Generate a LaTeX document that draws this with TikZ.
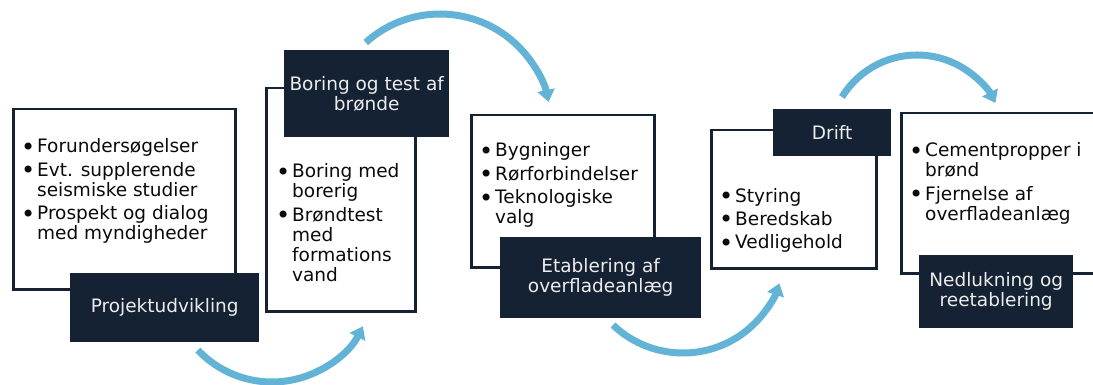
\documentclass[tikz,border=0pt]{standalone}
\usepackage{fontspec}
\setmainfont{DejaVu Sans}
\usetikzlibrary{arrows.meta}
\definecolor{navy}{RGB}{20,34,51}
\definecolor{arrowblue}{RGB}{99,179,215}
\definecolor{labeltext}{RGB}{236,236,236}
\definecolor{bodytext}{RGB}{10,10,10}
\newcommand\bul{\makebox[13pt][l]{\hspace{-3pt}\raisebox{-0.12em}{\scalebox{1.3}{•}}}}
\newcommand\ind{\hspace*{13pt}}
\newcommand\itemfont{\fontsize{18.5}{20}\selectfont}
\newcommand\gap{\\[3.5pt]}
\begin{document}
\begin{tikzpicture}[x=1pt,y=1pt,
  panel/.style={draw=navy, line width=2.5pt, fill=white, anchor=north west, inner sep=0pt},
  label/.style={fill=navy, text=labeltext, align=center, font=\itemfont, anchor=north west, inner sep=0pt},
  body/.style={anchor=base west, inner sep=0pt, text=bodytext, font=\itemfont},
  flow/.style={draw=arrowblue, line width=7pt, -{Triangle[length=12pt,width=17pt]}}]
\useasboundingbox (0,0) rectangle (1093,-385);
\clip (0,0) rectangle (1093,-385);
% panels
\node[panel, minimum width=222pt, minimum height=180pt] (p1) at (12,-108) {};
\node[panel, minimum width=149pt, minimum height=223pt] (p2) at (265,-87) {};
\node[panel, minimum width=183pt, minimum height=152pt] (p3) at (470,-114) {};
\node[panel, minimum width=165pt, minimum height=138pt] (p4) at (710,-129) {};
\node[panel, minimum width=215pt, minimum height=160pt] (p5) at (900,-112) {};
% labels
\node[label, minimum width=189pt, minimum height=69pt] (l1) at (70,-273) {Projektudvikling};
\node[label, minimum width=165pt, minimum height=87pt] (l2) at (284,-50) {Boring og test af\\brønde};
\node[label, minimum width=201pt, minimum height=81pt] (l3) at (500,-237) {Etablering af\\overfladeanlæg};
\node[label, minimum width=118pt, minimum height=47pt] (l4) at (773,-109) {Drift};
\node[label, minimum width=154pt, minimum height=73pt] (l5) at (919,-255) {Nedlukning og\\reetablering};
% body text
\node[body] (b1) at (24,-153) {\parbox[t]{220pt}{\raggedright
  \bul Forundersøgelser\gap
  \bul Evt. supplerende\\\ind seismiske studier\gap
  \bul Prospekt og dialog\\\ind med myndigheder}};
\node[body] (b2) at (279,-178) {\parbox[t]{200pt}{\raggedright
  \bul Boring med\\\ind borerig\gap
  \bul Brøndtest\\\ind med\\\ind formations\\\ind vand}};
\node[body] (b3) at (482,-157) {\parbox[t]{220pt}{\raggedright
  \bul Bygninger\gap
  \bul Rørforbindelser\gap
  \bul Teknologiske\\\ind valg}};
\node[body] (b4) at (722,-202) {\parbox[t]{200pt}{\raggedright
  \bul Styring\gap
  \bul Beredskab\gap
  \bul Vedligehold}};
\node[body] (b5) at (912,-157) {\parbox[t]{220pt}{\raggedright
  \bul Cementpropper i\\\ind brønd\gap
  \bul Fjernelse af\\\ind overfladeanlæg}};
% arrows
\coordinate (c1) at (272,-280);
\coordinate (c2) at (440,-125);
\coordinate (c3) at (683,-251.5);
\coordinate (c4) at (917,-143);
\draw[flow] ([shift={(223.4:102)}]c1) arc[start angle=223.4, end angle=333, radius=102];
\draw[flow] ([shift={(132:111)}]c2) arc[start angle=132, end angle=12, radius=111];
\draw[flow] ([shift={(226.4:101.5)}]c3) arc[start angle=226.4, end angle=341.7, radius=101.5];
\draw[flow] ([shift={(148.5:88)}]c4) arc[start angle=148.5, end angle=27, radius=88];
\end{tikzpicture}
\end{document}
